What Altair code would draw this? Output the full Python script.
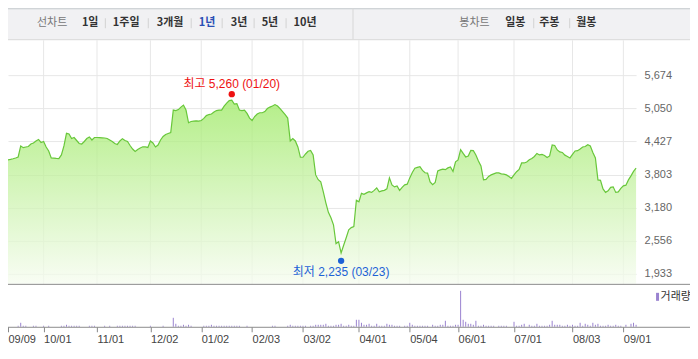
import altair as alt
import pandas as pd

# ---------------- data ----------------
START, END = "2019-09-09", "2020-09-08"
HOLIDAYS = ["2019-09-12", "2019-09-13", "2019-10-03", "2019-10-09", "2019-12-25",
            "2019-12-31", "2020-01-01", "2020-01-24", "2020-01-27", "2020-04-15",
            "2020-04-30", "2020-05-01", "2020-05-05", "2020-08-17"]

PRICE = [
    4078, 4087, 4100, 4115, 4134, 4341, 4309, 4322, 4331, 4378,
    4397, 4434, 4463, 4406, 4425, 4322, 4247, 4115, 4112, 4106,
    4102, 4172, 4341, 4579, 4566, 4481, 4500, 4444, 4388, 4378,
    4425, 4481, 4510, 4453, 4500, 4500, 4498, 4494, 4491, 4481,
    4453, 4425, 4388, 4369, 4434, 4478, 4444, 4425, 4350, 4284,
    4237, 4275, 4303, 4326, 4322, 4313, 4434, 4397, 4322, 4359,
    4453, 4519, 4557, 4575, 4594, 5017, 5007, 5026, 5073, 5111,
    5017, 4778, 4801, 4810, 4814, 4810, 4820, 4861, 4913, 4932,
    4942, 4979, 5007, 5017, 5017, 5092, 5148, 5195, 5204, 5129,
    5139, 5017, 5007, 5017, 4955, 4866, 4820, 4895, 4942, 4966,
    4966, 4989, 5045, 5073, 5092, 5120, 5092, 5045, 4989, 4932,
    4866, 4435, 4481, 4435, 4322, 4128, 4128, 4190, 4241, 4256,
    4172, 3796, 3706, 3665, 3477, 3270, 3092, 2989, 2857, 2500,
    2538, 2326, 2472, 2613, 2763, 2804, 2823, 3318, 3289, 3449,
    3430, 3458, 3481, 3467, 3505, 3552, 3477, 3496, 3505, 3533,
    3740, 3608, 3571, 3589, 3505, 3561, 3608, 3621, 3740, 3843,
    3922, 3937, 3952, 3881, 3837, 3830, 3665, 3612, 3655, 3871,
    3890, 3903, 3894, 3928, 3947, 3860, 4041, 4078, 4271, 4200,
    4134, 4153, 4256, 4252, 4172, 4059, 3965, 3702, 3712, 3768,
    3796, 3815, 3834, 3834, 3815, 3811, 3796, 3764, 3730, 3796,
    3856, 3899, 4021, 4021, 4040, 4081, 4106, 4143, 4200, 4172,
    4181, 4162, 4125, 4153, 4359, 4350, 4266, 4228, 4219, 4168,
    4143, 4115, 4181, 4247, 4252, 4284, 4322, 4331, 4365, 4341,
    4219, 4115, 3702, 3693, 3533, 3467, 3496, 3561, 3571, 3467,
    3477, 3542, 3589, 3603, 3702, 3777, 3862, 3922,
]

# volume (만주)
VOLUME = [
    0, 0, 0, 0, 1, 4, 1, 1, 0, 0,
    1, 1, 0, 0, 1, 0, 1, 0, 0, 0,
    0, 1, 1, 2, 1, 1, 1, 1, 1, 0,
    0, 0, 1, 1, 1, 0, 0, 0, 1, 0,
    1, 0, 0, 1, 1, 1, 1, 1, 1, 1,
    1, 0, 0, 0, 0, 0, 1, 0, 0, 0,
    0, 1, 0, 0, 0, 9, 3, 1, 1, 2,
    1, 2, 1, 0, 0, 0, 0, 1, 1, 1,
    2, 1, 1, 1, 1, 1, 1, 1, 1, 1,
    1, 1, 0, 0, 1, 0, 0, 0, 0, 0,
    0, 0, 0, 0, 1, 1, 0, 0, 0, 0,
    1, 2, 1, 1, 1, 1, 1, 1, 0, 1,
    1, 2, 2, 2, 2, 3, 1, 1, 1, 2,
    2, 3, 1, 1, 2, 1, 1, 7, 7, 4,
    2, 2, 3, 1, 1, 3, 1, 1, 1, 3,
    2, 2, 1, 1, 1, 0, 1, 1, 4, 2,
    1, 1, 1, 1, 1, 1, 0, 2, 1, 1,
    2, 2, 6, 1, 1, 1, 2, 2, 36, 7,
    5, 3, 3, 2, 6, 1, 1, 2, 1, 1,
    1, 1, 0, 1, 1, 1, 1, 0, 0, 5,
    1, 1, 2, 3, 0, 2, 1, 1, 3, 1,
    1, 1, 1, 2, 6, 2, 2, 2, 1, 1,
    2, 1, 2, 1, 1, 4, 1, 3, 2, 1,
    4, 2, 3, 1, 1, 1, 2, 1, 1, 2,
    1, 1, 0, 2, 0, 3, 4, 2,
]

TICK_DATES = ["2019-09-09", "2019-10-01", "2019-11-01", "2019-12-02", "2020-01-02",
              "2020-02-03", "2020-03-02", "2020-04-01", "2020-05-04", "2020-06-01",
              "2020-07-01", "2020-08-03", "2020-09-01"]
Y_TICKS = [1933, 2556, 3180, 3803, 4427, 5050, 5674]

HIGH_DATE, HIGH_VALUE = "2020-01-20", 5260
LOW_DATE, LOW_VALUE = "2020-03-23", 2235

HEADER_LEFT = ["선차트", "1일", "1주일", "3개월", "1년", "3년", "5년", "10년"]
HEADER_RIGHT = ["봉차트", "일봉", "주봉", "월봉"]
VOLUME_LABEL = "거래량"

# ---------------- layout / style ----------------
HEADER_LEFT_X = [29, 74, 105, 149, 191, 223, 254, 286]
SEP_LEFT_X = [97.5, 140.5, 183.5, 214.5, 246.5, 278.5]
HEADER_RIGHT_X = [452, 498, 532, 569]
SEP_RIGHT_X = [526.5, 562.5]

W, H = 629, 287
PAD = {"left": 0, "top": 32, "right": 54, "bottom": 25}
FULL_W = W + PAD["left"] + PAD["right"]
FONT = "Liberation Sans, Noto Sans CJK KR, sans-serif"
KFONT = "Noto Sans CJK KR, sans-serif"
GREEN = "#68c73a"
PURPLE = "#9a83d0"
GRID = "#e7e7e7"

dates = [d.strftime("%Y-%m-%d") for d in pd.bdate_range(START, END)
         if d.strftime("%Y-%m-%d") not in HOLIDAYS]
n = len(dates)
df = pd.DataFrame({"i": list(range(n)), "date": dates,
                   "v": PRICE[:n], "vol": VOLUME[:n]})

tick_idx = [dates.index(d) for d in TICK_DATES]
tick_lbl = [d[5:7] + "/" + d[8:10] for d in TICK_DATES]
expr = "''"
for k, l in reversed(list(zip(tick_idx, tick_lbl))):
    expr = f"datum.value == {k} ? '{l}' : ({expr})"

XS = alt.Scale(domain=[0, n - 1], nice=False, zero=False)
YS = alt.Scale(domain=[1745, 6332], range=[244, 0], nice=False, zero=False)
VS = alt.Scale(domain=[0, 36], range=[287, 251], nice=False, zero=False)

one = pd.DataFrame({"a": [0]})


def txt(s, x, y, color, size=11, weight="normal", font=KFONT, align="left"):
    return alt.Chart(one).mark_text(
        text=s, align=align, baseline="middle", font=font, fontSize=size,
        fontWeight=weight, color=color
    ).encode(x=alt.value(x), y=alt.value(y))


def hrule(x1, x2, y, color):
    return alt.Chart(one).mark_rule(color=color, strokeWidth=1).encode(
        x=alt.value(x1), x2=alt.value(x2), y=alt.value(y))


def vrule(x, y1, y2, color):
    return alt.Chart(one).mark_rule(color=color, strokeWidth=1).encode(
        x=alt.value(x), y=alt.value(y1), y2=alt.value(y2))


layers = []
# header
layers.append(alt.Chart(one).mark_rect(color="#f1f1f3").encode(
    x=alt.value(0), x2=alt.value(FULL_W), y=alt.value(-32), y2=alt.value(-1)))
layers.append(hrule(0, FULL_W, -31.5, "#c4cacc"))
layers.append(hrule(0, FULL_W, -0.5, "#d6d6d6"))
layers.append(vrule(345.5, -32, -1, "#d8d8d8"))
for s, x in zip(HEADER_LEFT, HEADER_LEFT_X):
    if s == "선차트":
        layers.append(txt(s, x, -17, "#777777"))
    elif s == "1년":
        layers.append(txt(s, x, -17, "#2a4fb5", weight="bold"))
    else:
        layers.append(txt(s, x, -17, "#333333", weight="bold"))
for s, x in zip(HEADER_RIGHT, HEADER_RIGHT_X):
    if s == "봉차트":
        layers.append(txt(s, x, -17, "#777777"))
    else:
        layers.append(txt(s, x, -17, "#333333", weight="bold"))
for x in SEP_LEFT_X + SEP_RIGHT_X:
    layers.append(vrule(x, -22, -12, "#d2d2d2"))

# vertical grid
vg = pd.DataFrame({"i": tick_idx[1:]})
layers.append(alt.Chart(vg).mark_rule(color=GRID, strokeWidth=1).encode(
    x=alt.X("i:Q", scale=XS, axis=None), y=alt.value(0), y2=alt.value(244)))

base = alt.Chart(df)
area = base.mark_area(
    fillOpacity=0.75,
    color=alt.Gradient(gradient="linear",
                       stops=[alt.GradientStop(color="#9ce962", offset=0),
                              alt.GradientStop(color="#f6fcf0", offset=1)],
                       x1=1, x2=1, y1=0, y2=1)
).encode(
    x=alt.X("i:Q", scale=XS, axis=alt.Axis(
        values=tick_idx, labelExpr=expr, labelAlign="left", labelFlush=False,
        labelOverlap=False, grid=False, domain=False, tickSize=5,
        tickColor="#888888", labelPadding=2, labelFontSize=11,
        labelColor="#444444", labelFont=FONT, title=None)),
    y=alt.Y("v:Q", scale=YS, axis=alt.Axis(
        orient="right", values=Y_TICKS, format=",d", ticks=False, domain=False,
        grid=True, gridColor=GRID, labelPadding=8, labelFontSize=11,
        labelColor="#666666", labelFont=FONT, title=None)),
    y2=alt.datum(1745),
)
layers.append(area)
layers.append(base.mark_line(color=GREEN, strokeWidth=1.2).encode(
    x=alt.X("i:Q", scale=XS, axis=None), y=alt.Y("v:Q", scale=YS, axis=None)))

# high / low annotations
hi = pd.DataFrame({"i": [dates.index(HIGH_DATE)], "v": [HIGH_VALUE],
                   "t": [f"최고 {HIGH_VALUE:,} ({HIGH_DATE[5:7]}/{HIGH_DATE[8:10]})"]})
lo = pd.DataFrame({"i": [dates.index(LOW_DATE)], "v": [LOW_VALUE],
                   "t": [f"최저 {LOW_VALUE:,} ({LOW_DATE[5:7]}/{LOW_DATE[8:10]})"]})
for d, col, dot_off, txt_off in [(hi, "#ee1111", -3, -13), (lo, "#1d63d6", 3, 14)]:
    c = alt.Chart(d)
    layers.append(c.mark_circle(color=col, size=40, opacity=1, yOffset=dot_off).encode(
        x=alt.X("i:Q", scale=XS, axis=None), y=alt.Y("v:Q", scale=YS, axis=None)))
    layers.append(c.mark_text(color=col, font=FONT, fontSize=12, yOffset=txt_off,
                              align="center", baseline="middle").encode(
        x=alt.X("i:Q", scale=XS, axis=None), y=alt.Y("v:Q", scale=YS, axis=None),
        text="t:N"))

# volume
layers.append(base.mark_rule(color=PURPLE, strokeWidth=1).encode(
    x=alt.X("i:Q", scale=XS, axis=None), y=alt.Y("vol:Q", scale=VS, axis=None),
    y2=alt.datum(0)))

# panel lines
layers.append(hrule(0, FULL_W, 244.5, "#8c8c8c"))
layers.append(hrule(0, FULL_W, 287.5, "#8c8c8c"))

# volume legend
layers.append(alt.Chart(one).mark_rect(color=PURPLE).encode(
    x=alt.value(649), x2=alt.value(652), y=alt.value(253), y2=alt.value(261)))
layers.append(txt(VOLUME_LABEL, 653.5, 257, "#333333", size=11))

chart = alt.layer(*layers).resolve_scale(
    x="independent", y="independent"
).properties(
    width=W, height=H, padding=PAD, autosize="none", background="white"
).configure_view(stroke=None)

chart.save("out.html", embed_options={"renderer": "svg", "actions": False})
